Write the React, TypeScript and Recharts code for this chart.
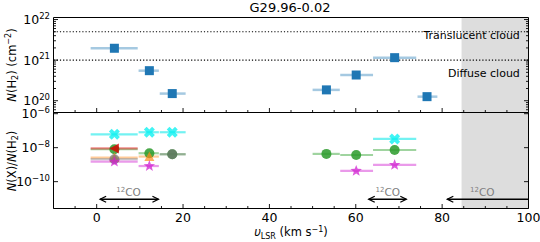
import React from 'react'
import {
  ErrorBar,
  ReferenceArea,
  ReferenceDot,
  ReferenceLine,
  Scatter,
  ScatterChart,
  XAxis,
  YAxis,
} from 'recharts'

const FONT = '"DejaVu Sans", sans-serif'

// velocity components (km/s) and the x error ranges
const compV = [4.1, 12.2, 17.5, 53.2, 60.1, 69.0, 76.5]
const compLo = [-1.4, 9.7, 14.6, 50.0, 56.4, 64.0, 74.3]
const compHi = [9.5, 14.4, 20.6, 56.3, 64.0, 74.0, 78.9]

// N(H2) per component (cm^-2)
const nH2 = [1.96e21, 5.5e20, 1.5e20, 1.85e20, 4.3e20, 1.15e21, 1.26e20]

// abundances N(X)/N(H2), null where not detected
const abCyan = [6.1e-8, 8.1e-8, 8.1e-8, null, null, 3.25e-8, null]
const abGreen = [8.05e-9, 4.7e-9, 4.1e-9, 4.3e-9, 3.7e-9, 7.3e-9, null]
const abRed = [9.0e-9, null, null, null, null, null, null]
const abOrange = [2.6e-9, 3.0e-9, null, null, null, null, null]
const abGray = [2.1e-9, null, 4.1e-9, null, null, null, null]
const abMagenta = [1.5e-9, 8.3e-10, null, null, 4.3e-10, 9.6e-10, null]

const cloudLines = [5e21, 1e21]
const cloudLabels = ['Translucent cloud', 'Diffuse cloud']
const cloudLabelY = [4.2e21, 4.8e20]

const coFrom = [0.8, 63.0, 81.2]
const coTo = [14.3, 71.7, 100]
const coLabelX = [7.4, 67.4, 89.3]
const coArrowY = 9.2e-12
const coLabelY = 2.3e-11

const shadeFrom = 84.5
const shadeTo = 100

const xTicks = [-10, -5, 0, 5, 10, 15, 20, 25, 30, 35, 40, 45, 50, 55, 60, 65, 70, 75, 80, 85, 90, 95, 100]
const topTicks = [
  6e19, 7e19, 8e19, 9e19, 1e20, 2e20, 3e20, 4e20, 5e20, 6e20, 7e20, 8e20, 9e20,
  1e21, 2e21, 3e21, 4e21, 5e21, 6e21, 7e21, 8e21, 9e21, 1e22,
]
const botTicks = [1e-6, 1e-8, 1e-10]

const topDomain = [Math.pow(10, 19.71), Math.pow(10, 22.05)]
const botDomain = [Math.pow(10, -11.58), Math.pow(10, -5.93)]

function rows(vals: (number | null)[]) {
  return vals
    .map((y, i) => (y == null ? null : { v: compV[i], y, err: [compV[i] - compLo[i], compHi[i] - compV[i]] }))
    .filter(Boolean) as { v: number; y: number; err: number[] }[]
}

function XTick(props: any) {
  const { x, y, payload, side, label } = props
  const v = payload.value
  const major = v % 20 === 0
  const len = major ? 4.5 : 2.5
  const d = side === 'bottom' ? -1 : 1
  return (
    <g>
      <line x1={x} x2={x} y1={y} y2={y + d * len} stroke="#000" strokeWidth={0.9} />
      {label && major && (
        <text x={x} y={y + 13} textAnchor="middle" fontSize={12.5} fontFamily={FONT} fill="#000">
          {v}
        </text>
      )}
    </g>
  )
}

function YTick(props: any) {
  const { x, y, payload, side, label } = props
  const v = payload.value
  const e = Math.log10(v)
  const major = Math.abs(e - Math.round(e)) < 1e-6
  const len = major ? 4.5 : 2.5
  const d = side === 'left' ? 1 : -1
  const exp = String(Math.round(e)).replace('-', '\u2212')
  return (
    <g>
      <line x1={x} x2={x + d * len} y1={y} y2={y} stroke="#000" strokeWidth={0.9} />
      {label && major && (
        <text x={x - 3.5} y={y + 4.5} textAnchor="end" fontSize={12.5} fontFamily={FONT} fill="#000">
          10
          <tspan dy={-5.5} fontSize={8.5}>
            {exp}
          </tspan>
        </text>
      )}
    </g>
  )
}

const square = (p: any) => <rect x={p.cx - 4.5} y={p.cy - 4.5} width={9} height={9} fill="#1f77b4" />

const xMark = (p: any) => {
  const s = 11
  const pts = [
    [-0.25, -0.5], [0, -0.25], [0.25, -0.5], [0.5, -0.25], [0.25, 0], [0.5, 0.25],
    [0.25, 0.5], [0, 0.25], [-0.25, 0.5], [-0.5, 0.25], [-0.25, 0], [-0.5, -0.25],
  ]
  return (
    <polygon
      points={pts.map(([a, b]) => `${p.cx + a * s},${p.cy + b * s}`).join(' ')}
      fill="#00f0f0"
      fillOpacity={0.75}
    />
  )
}

const circle = (color: string, op: number) => (p: any) =>
  <circle cx={p.cx} cy={p.cy} r={5} fill={color} fillOpacity={op} />

const triLeft = (p: any) => (
  <polygon
    points={`${p.cx - 5},${p.cy} ${p.cx + 4.5},${p.cy - 5} ${p.cx + 4.5},${p.cy + 5}`}
    fill="#e00000"
    fillOpacity={0.8}
  />
)

const triUp = (p: any) => (
  <polygon
    points={`${p.cx},${p.cy - 5} ${p.cx - 5},${p.cy + 4.5} ${p.cx + 5},${p.cy + 4.5}`}
    fill="#ff8c1a"
    fillOpacity={0.7}
  />
)

const star = (p: any) => {
  const pts: string[] = []
  for (let i = 0; i < 10; i++) {
    const r = i % 2 === 0 ? 6 : 2.5
    const a = -Math.PI / 2 + (i * Math.PI) / 5
    pts.push(`${p.cx + r * Math.cos(a)},${p.cy + r * Math.sin(a)}`)
  }
  return <polygon points={pts.join(' ')} fill="#d020d0" fillOpacity={0.75} />
}

function CoArrow(props: any) {
  const { x1, y1, x2, y2, both } = props
  const h = 6
  const w = 3
  return (
    <g>
      <line x1={x1} x2={x2} y1={y1} y2={y2} stroke="#000" strokeWidth={1.3} />
      <path d={`M${x1 + h},${y1 - w} L${x1},${y1} L${x1 + h},${y1 + w}`} fill="none" stroke="#000" strokeWidth={1.3} />
      {both && (
        <path d={`M${x2 - h},${y2 - w} L${x2},${y2} L${x2 - h},${y2 + w}`} fill="none" stroke="#000" strokeWidth={1.3} />
      )}
    </g>
  )
}

const coText = (p: any) => (
  <text x={p.cx} y={p.cy + 4} textAnchor="middle" fontSize={10.5} fontFamily={FONT} fill="#808080">
    <tspan fontSize={7} dy={-4}>
      12
    </tspan>
    <tspan dy={4}>CO</tspan>
  </text>
)

const cloudText = (txt: string) => (p: any) => (
  <text x={p.cx} y={p.cy + 4} textAnchor="end" fontSize={11} fontFamily={FONT} fill="#000">
    {txt}
  </text>
)

const W = 540
const H = 242
const LEFT = 53.5
const RIGHT = W - 528.5
const TOP = 17.5
const MID = 112.5
const BOT = 208.5

export default function App() {
  const series = [
    { d: rows(abCyan), shape: xMark, err: '#00e8e8', eo: 0.55 },
    { d: rows(abGreen), shape: circle('#2a9a2a', 0.85), err: '#2ca02c', eo: 0.45 },
    { d: rows(abRed), shape: triLeft, err: '#e00000', eo: 0.45 },
    { d: rows(abOrange), shape: triUp, err: '#ff8c1a', eo: 0.45 },
    { d: rows(abGray), shape: circle('#707070', 0.7), err: '#808080', eo: 0.45 },
    { d: rows(abMagenta), shape: star, err: '#d020d0', eo: 0.45 },
  ]
  const xProps = {
    type: 'number' as const,
    domain: [-10, 100],
    ticks: xTicks,
    interval: 0 as const,
    allowDataOverflow: true,
    tickSize: 0,
    tickMargin: 0,
    tickLine: false,
    height: 1,
    axisLine: { stroke: '#000', strokeWidth: 1 },
  }
  const yProps = {
    type: 'number' as const,
    scale: 'log' as const,
    interval: 0 as const,
    allowDataOverflow: true,
    tickSize: 0,
    tickMargin: 0,
    tickLine: false,
    axisLine: { stroke: '#000', strokeWidth: 1 },
  }
  return (
    <div style={{ position: 'absolute', left: 0, top: 0, width: W, height: H, background: '#fff' }}>
      <div style={{ position: 'absolute', left: 0, top: 0 }}>
        <ScatterChart width={W} height={H} margin={{ top: TOP - 1, right: RIGHT - 1, bottom: H - MID - 1, left: 0 }}>
          <XAxis xAxisId="b" dataKey="v" orientation="bottom" {...xProps} tick={(p: any) => <XTick {...p} side="bottom" />} />
          <XAxis xAxisId="t" orientation="top" {...xProps} tick={(p: any) => <XTick {...p} side="top" />} />
          <YAxis yAxisId="l" dataKey="y" orientation="left" width={LEFT} domain={topDomain} ticks={topTicks} {...yProps}
            tick={(p: any) => <YTick {...p} side="left" label />} />
          <YAxis yAxisId="r" orientation="right" width={1} domain={topDomain} ticks={topTicks} {...yProps}
            tick={(p: any) => <YTick {...p} side="right" />} />
          <ReferenceArea xAxisId="b" yAxisId="l" x1={shadeFrom} x2={shadeTo} fill="#dddddd" fillOpacity={1} stroke="none" />
          {cloudLines.map((v) => (
            <ReferenceLine key={v} xAxisId="b" yAxisId="l" y={v} stroke="#000" strokeWidth={1.2} strokeDasharray="1.2 2" />
          ))}
          {cloudLabels.map((t, i) => (
            <ReferenceDot key={t} xAxisId="b" yAxisId="l" x={98} y={cloudLabelY[i]} shape={cloudText(t)} />
          ))}
          <Scatter xAxisId="b" yAxisId="l" data={rows(nH2)} shape={square} isAnimationActive={false}>
            <ErrorBar dataKey="err" direction="x" width={0} stroke="#1f77b4" strokeOpacity={0.4} strokeWidth={2.5} />
          </Scatter>
        </ScatterChart>
      </div>
      <div style={{ position: 'absolute', left: 0, top: 0 }}>
        <ScatterChart width={W} height={H} margin={{ top: MID - 1, right: RIGHT - 1, bottom: H - BOT - 1, left: 0 }}>
          <XAxis xAxisId="b" dataKey="v" orientation="bottom" {...xProps} tick={(p: any) => <XTick {...p} side="bottom" label />} />
          <XAxis xAxisId="t" orientation="top" {...xProps} tick={(p: any) => <XTick {...p} side="top" />} />
          <YAxis yAxisId="l" dataKey="y" orientation="left" width={LEFT} domain={botDomain} ticks={botTicks} {...yProps}
            tick={(p: any) => <YTick {...p} side="left" label />} />
          <YAxis yAxisId="r" orientation="right" width={1} domain={botDomain} ticks={botTicks} {...yProps}
            tick={(p: any) => <YTick {...p} side="right" />} />
          <ReferenceArea xAxisId="b" yAxisId="l" x1={shadeFrom} x2={shadeTo} fill="#dddddd" fillOpacity={1} stroke="none" />
          {series.map((s, i) => (
            <Scatter key={i} xAxisId="b" yAxisId="l" data={s.d} shape={s.shape} isAnimationActive={false}>
              <ErrorBar dataKey="err" direction="x" width={0} stroke={s.err} strokeOpacity={s.eo} strokeWidth={2.2} />
            </Scatter>
          ))}
          {coFrom.map((f, i) => (
            <ReferenceLine
              key={'a' + i}
              xAxisId="b"
              yAxisId="l"
              segment={[{ x: f, y: coArrowY }, { x: coTo[i], y: coArrowY }]}
              shape={(p: any) => <CoArrow {...p} both={i < 2} />}
            />
          ))}
          {coLabelX.map((x, i) => (
            <ReferenceDot key={'t' + i} xAxisId="b" yAxisId="l" x={x} y={coLabelY} shape={coText} />
          ))}
        </ScatterChart>
      </div>
      <svg width={W} height={H} style={{ position: 'absolute', left: 0, top: 0, pointerEvents: 'none' }} fontFamily={FONT}>
        <text x={290} y={12} textAnchor="middle" fontSize={13} fill="#000">G29.96-0.02</text>
        <text transform="rotate(-90 12 65)" x={12} y={65} textAnchor="middle" dominantBaseline="central" fontSize={11.5}>
          <tspan fontStyle="italic">N</tspan>(H<tspan dy={3} fontSize={8}>2</tspan>
          <tspan dy={-3}>) (cm</tspan>
          <tspan dy={-4.5} fontSize={8}>{'\u22122'}</tspan>
          <tspan dy={4.5}>)</tspan>
        </text>
        <text transform="rotate(-90 12 161)" x={12} y={161} textAnchor="middle" dominantBaseline="central" fontSize={11.5}>
          <tspan fontStyle="italic">N</tspan>(X)/<tspan fontStyle="italic">N</tspan>(H<tspan dy={3} fontSize={8}>2</tspan>
          <tspan dy={-3}>)</tspan>
        </text>
        <text x={291} y={236} textAnchor="middle" fontSize={11.5}>
          <tspan fontStyle="italic">υ</tspan>
          <tspan dy={3} fontSize={8}>LSR</tspan>
          <tspan dy={-3}> (km s</tspan>
          <tspan dy={-4.5} fontSize={8}>{'\u22121'}</tspan>
          <tspan dy={4.5}>)</tspan>
        </text>
      </svg>
    </div>
  )
}
